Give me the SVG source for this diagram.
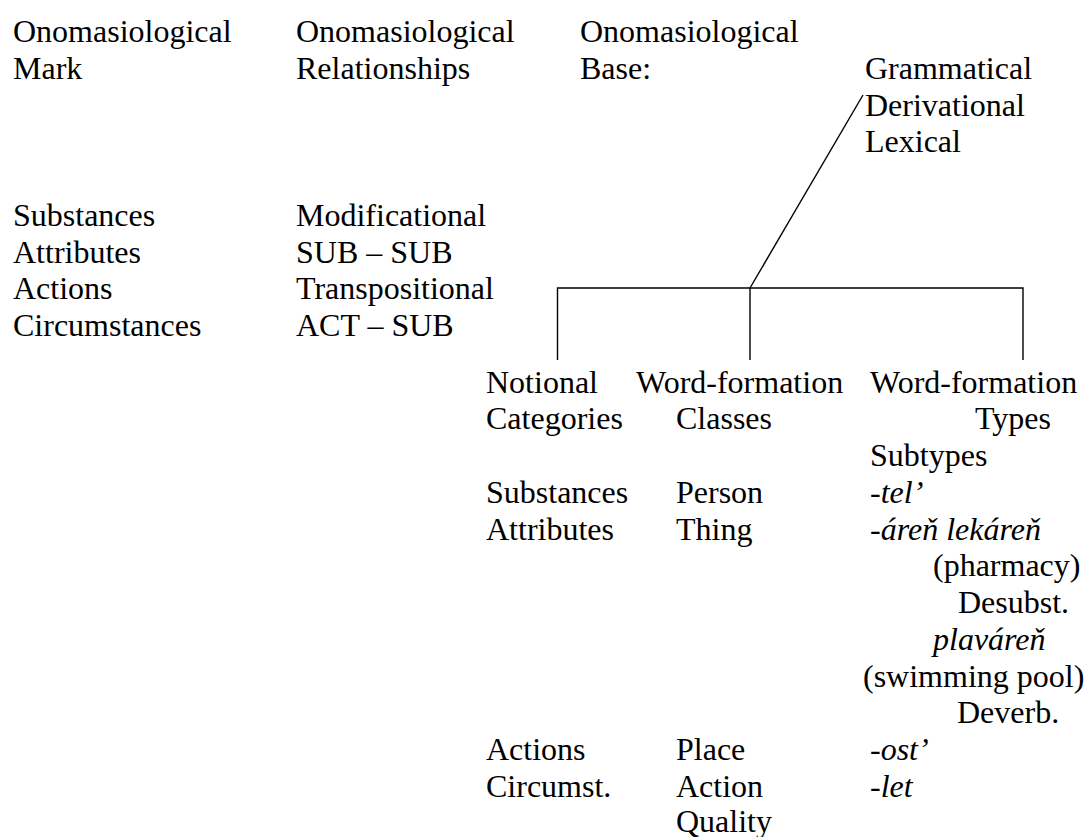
<svg xmlns="http://www.w3.org/2000/svg" width="1087" height="837" viewBox="0 0 1087 837">
<style>
text{font-family:'Liberation Serif','DejaVu Serif',serif;font-size:32px;fill:#000}
.i{font-style:italic}
.ln{stroke:#000;stroke-width:1.4;fill:none}
</style>
<rect width="1087" height="837" fill="#fff"/>
<g id="connectors">
<line class="ln" x1="750" y1="288" x2="863" y2="95"/>
<polyline class="ln" points="557.5,360 557.5,288 1023,288 1023,360"/>
<line class="ln" x1="750" y1="288" x2="750" y2="360"/>
</g>
<g font-family="Liberation Serif, serif" font-size="32">
<g id="mark">
<text x="13" y="42">Onomasiological</text>
<text x="13" y="78.75">Mark</text>
<text x="13" y="225.75">Substances</text>
<text x="13" y="262.5">Attributes</text>
<text x="13" y="299.25">Actions</text>
<text x="13" y="336">Circumstances</text>
</g>
<g id="relationships">
<text x="296" y="42">Onomasiological</text>
<text x="296" y="78.75">Relationships</text>
<text x="296" y="225.75">Modificational</text>
<text x="296" y="262.5">SUB – SUB</text>
<text x="296" y="299.25">Transpositional</text>
<text x="296" y="336">ACT – SUB</text>
</g>
<g id="base">
<text x="580" y="42">Onomasiological</text>
<text x="580" y="78.75">Base:</text>
<text x="865" y="78.75">Grammatical</text>
<text x="865" y="115.5">Derivational</text>
<text x="865" y="152.25">Lexical</text>
</g>
<g id="notional">
<text x="486" y="392.5">Notional</text>
<text x="486" y="429.25">Categories</text>
<text x="486" y="502.75">Substances</text>
<text x="486" y="539.5">Attributes</text>
<text x="486" y="760">Actions</text>
<text x="486" y="796.75">Circumst.</text>
</g>
<g id="classes">
<text x="636" y="392.5">Word-formation</text>
<text x="676" y="429.25">Classes</text>
<text x="676" y="502.75">Person</text>
<text x="676" y="539.5">Thing</text>
<text x="676" y="760">Place</text>
<text x="676" y="796.75">Action</text>
<text x="676" y="832">Quality</text>
</g>
<g id="types">
<text x="870" y="392.5">Word-formation</text>
<text x="975" y="429.25">Types</text>
<text x="870" y="466">Subtypes</text>
<text x="870" y="502.75">-<tspan class="i">tel’</tspan></text>
<text x="870" y="539.5">-<tspan class="i">áreň lekáreň</tspan></text>
<text x="933" y="576.25">(pharmacy)</text>
<text x="958" y="613">Desubst.</text>
<text x="933" y="649.75" class="i">plaváreň</text>
<text x="863" y="686.5">(swimming pool)</text>
<text x="957" y="723.25">Deverb.</text>
<text x="870" y="760">-<tspan class="i">ost’</tspan></text>
<text x="870" y="796.75">-<tspan class="i">let</tspan></text>
</g>
</g>
</svg>
